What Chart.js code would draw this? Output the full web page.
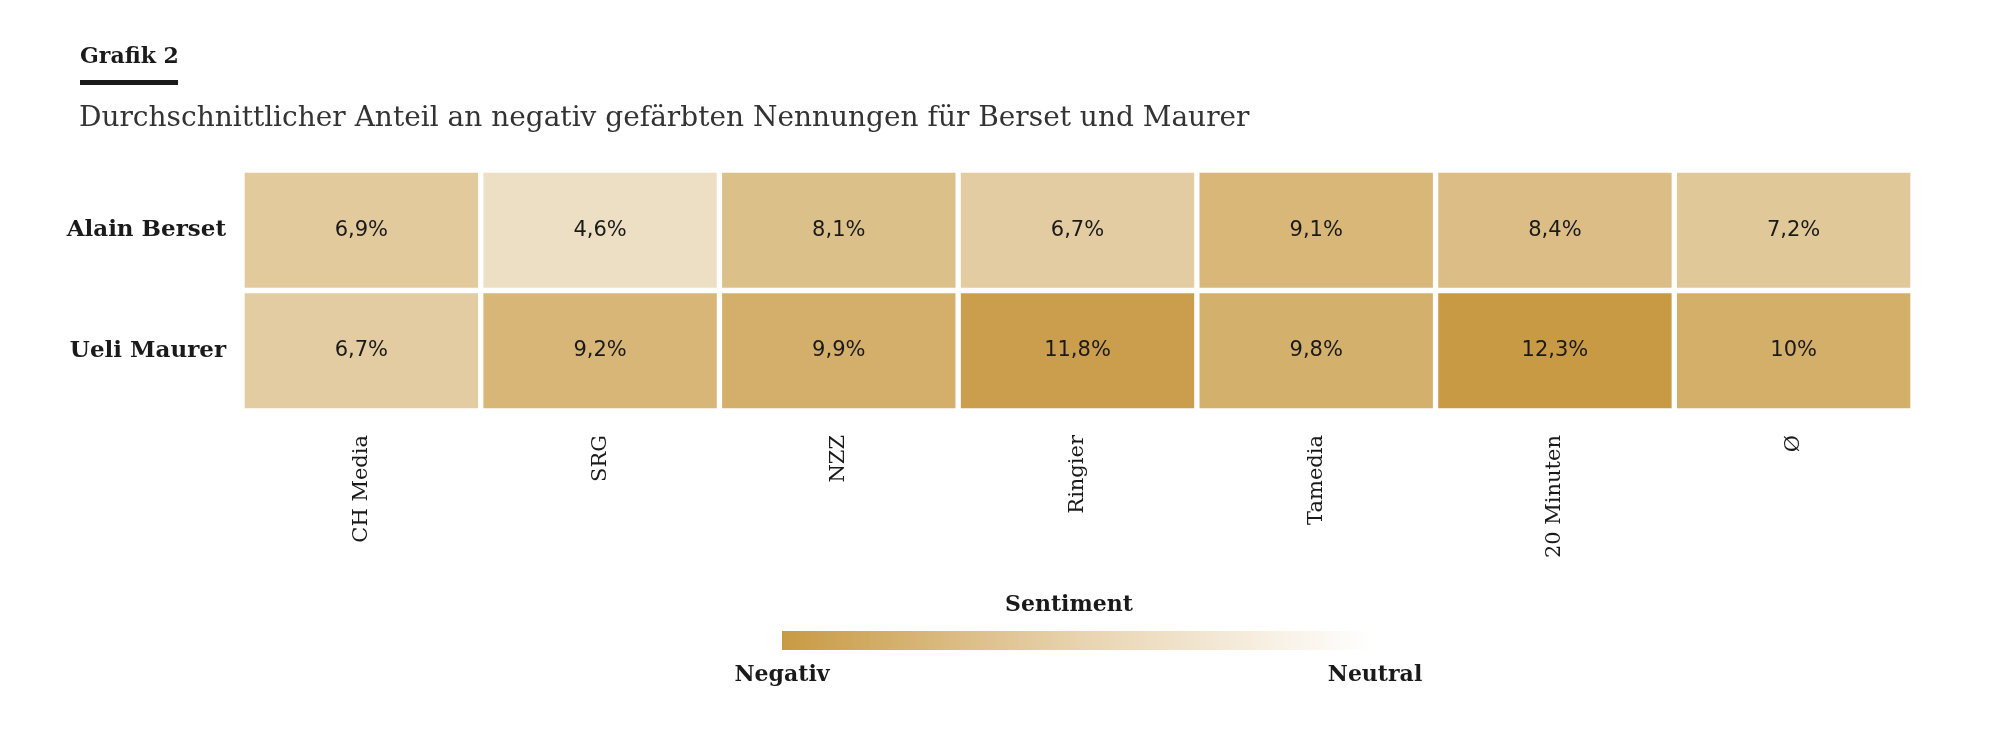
<!DOCTYPE html>
<html>
<head>
<meta charset="utf-8">
<script src="https://cdn.jsdelivr.net/npm/chart.js@4/dist/chart.umd.min.js"></script>
<style>
  body { margin: 0; background: #fff; font-family: "DejaVu Serif", serif; color: #1a1a1a; }
  #wrap { position: relative; width: 2000px; height: 741px; }
  canvas { position: absolute; left: 0; top: 0; }
  .txt { position: absolute; white-space: nowrap; }
</style>
</head>
<body>
<div id="wrap">
  <canvas id="heat" width="2000" height="741"></canvas>
  <div class="txt" style="left:80px;top:42px;font-size:22px;font-weight:bold;">Grafik 2</div>
  <div style="position:absolute;left:80px;top:80px;width:98px;height:5px;background:#1a1a1a;"></div>
  <div class="txt" style="left:79px;top:100px;font-size:28px;font-weight:300;color:#333;">Durchschnittlicher Anteil an negativ gefärbten Nennungen für Berset und Maurer</div>
  <div class="txt" style="left:969px;top:590px;width:200px;text-align:center;font-size:22px;font-weight:bold;">Sentiment</div>
  <div style="position:absolute;left:782px;top:631px;width:590px;height:19px;background:linear-gradient(to right,#c89a44,#e8d3ae 50%,#ffffff);"></div>
  <div class="txt" style="left:682px;top:660px;width:200px;text-align:center;font-size:22px;font-weight:bold;">Negativ</div>
  <div class="txt" style="left:1275px;top:660px;width:200px;text-align:center;font-size:22px;font-weight:bold;">Neutral</div>
</div>
<script>
// Data
const outlets = ['CH Media', 'SRG', 'NZZ', 'Ringier', 'Tamedia', '20 Minuten', 'Ø'];
const persons = ['Ueli Maurer', 'Alain Berset'];   // bottom row first
const maurer = [6.7, 9.2, 9.9, 11.8, 9.8, 12.3, 10];
const berset = [6.9, 4.6, 8.1, 6.7, 9.1, 8.4, 7.2];

// Map a value to a colour between white and the dark gold
function cellColor(v) {
    const t = Math.max(0, Math.min(1, (v - 1) / 11.3));
    const r = Math.round(255 - t * (255 - 200));
    const g = Math.round(255 - t * (255 - 154));
    const b = Math.round(255 - t * (255 - 68));
    return `rgb(${r},${g},${b})`;
}

function formatPct(v) {
    return v.toLocaleString('de-CH').replace('.', ',') + '%';
}

const rowData = [maurer, berset];

const cellLabels = {
    id: 'cellLabels',
    afterDatasetsDraw(chart) {
        const ctx = chart.ctx;
        ctx.save();
        ctx.font = '500 21px "DejaVu Sans"';
        ctx.fillStyle = '#1a1a1a';
        ctx.textAlign = 'center';
        ctx.textBaseline = 'middle';
        chart.data.datasets.forEach((ds, di) => {
            chart.getDatasetMeta(di).data.forEach((bar, i) => {
                const y = (bar.y + bar.base) / 2;
                ctx.fillText(formatPct(rowData[di][i]), bar.x, y);
            });
        });
        ctx.restore();
    }
};

new Chart(document.getElementById('heat'), {
    type: 'bar',
    data: {
        labels: outlets,
        datasets: rowData.map((vals, di) => ({
            label: persons[di],
            data: vals.map(() => 1),
            backgroundColor: vals.map(cellColor),
            borderColor: '#ffffff',
            borderWidth: 3,
            borderSkipped: false,
            barPercentage: 1,
            categoryPercentage: 1
        }))
    },
    options: {
        responsive: false,
        animation: false,
        layout: { padding: { top: 170, right: 87, left: 0, bottom: 0 } },
        plugins: { legend: { display: false }, tooltip: { enabled: false } },
        scales: {
            x: {
                stacked: true,
                grid: { display: false },
                border: { display: false },
                afterFit: s => { s.height = 330; },
                ticks: {
                    minRotation: 90, maxRotation: 90, padding: 16,
                    color: '#1a1a1a',
                    font: { family: 'DejaVu Serif', size: 21 }
                }
            },
            y: {
                stacked: true,
                min: 0, max: 2,
                grid: { display: false },
                border: { display: false },
                afterFit: s => { s.width = 242; },
                afterBuildTicks: s => { s.ticks = [{ value: 0.5 }, { value: 1.5 }]; },
                ticks: {
                    padding: 8,
                    color: '#1a1a1a',
                    font: { family: 'DejaVu Serif', size: 23, weight: 'bold' },
                    callback: v => persons[Math.floor(v)]
                }
            }
        }
    },
    plugins: [cellLabels]
});
</script>
</body>
</html>
